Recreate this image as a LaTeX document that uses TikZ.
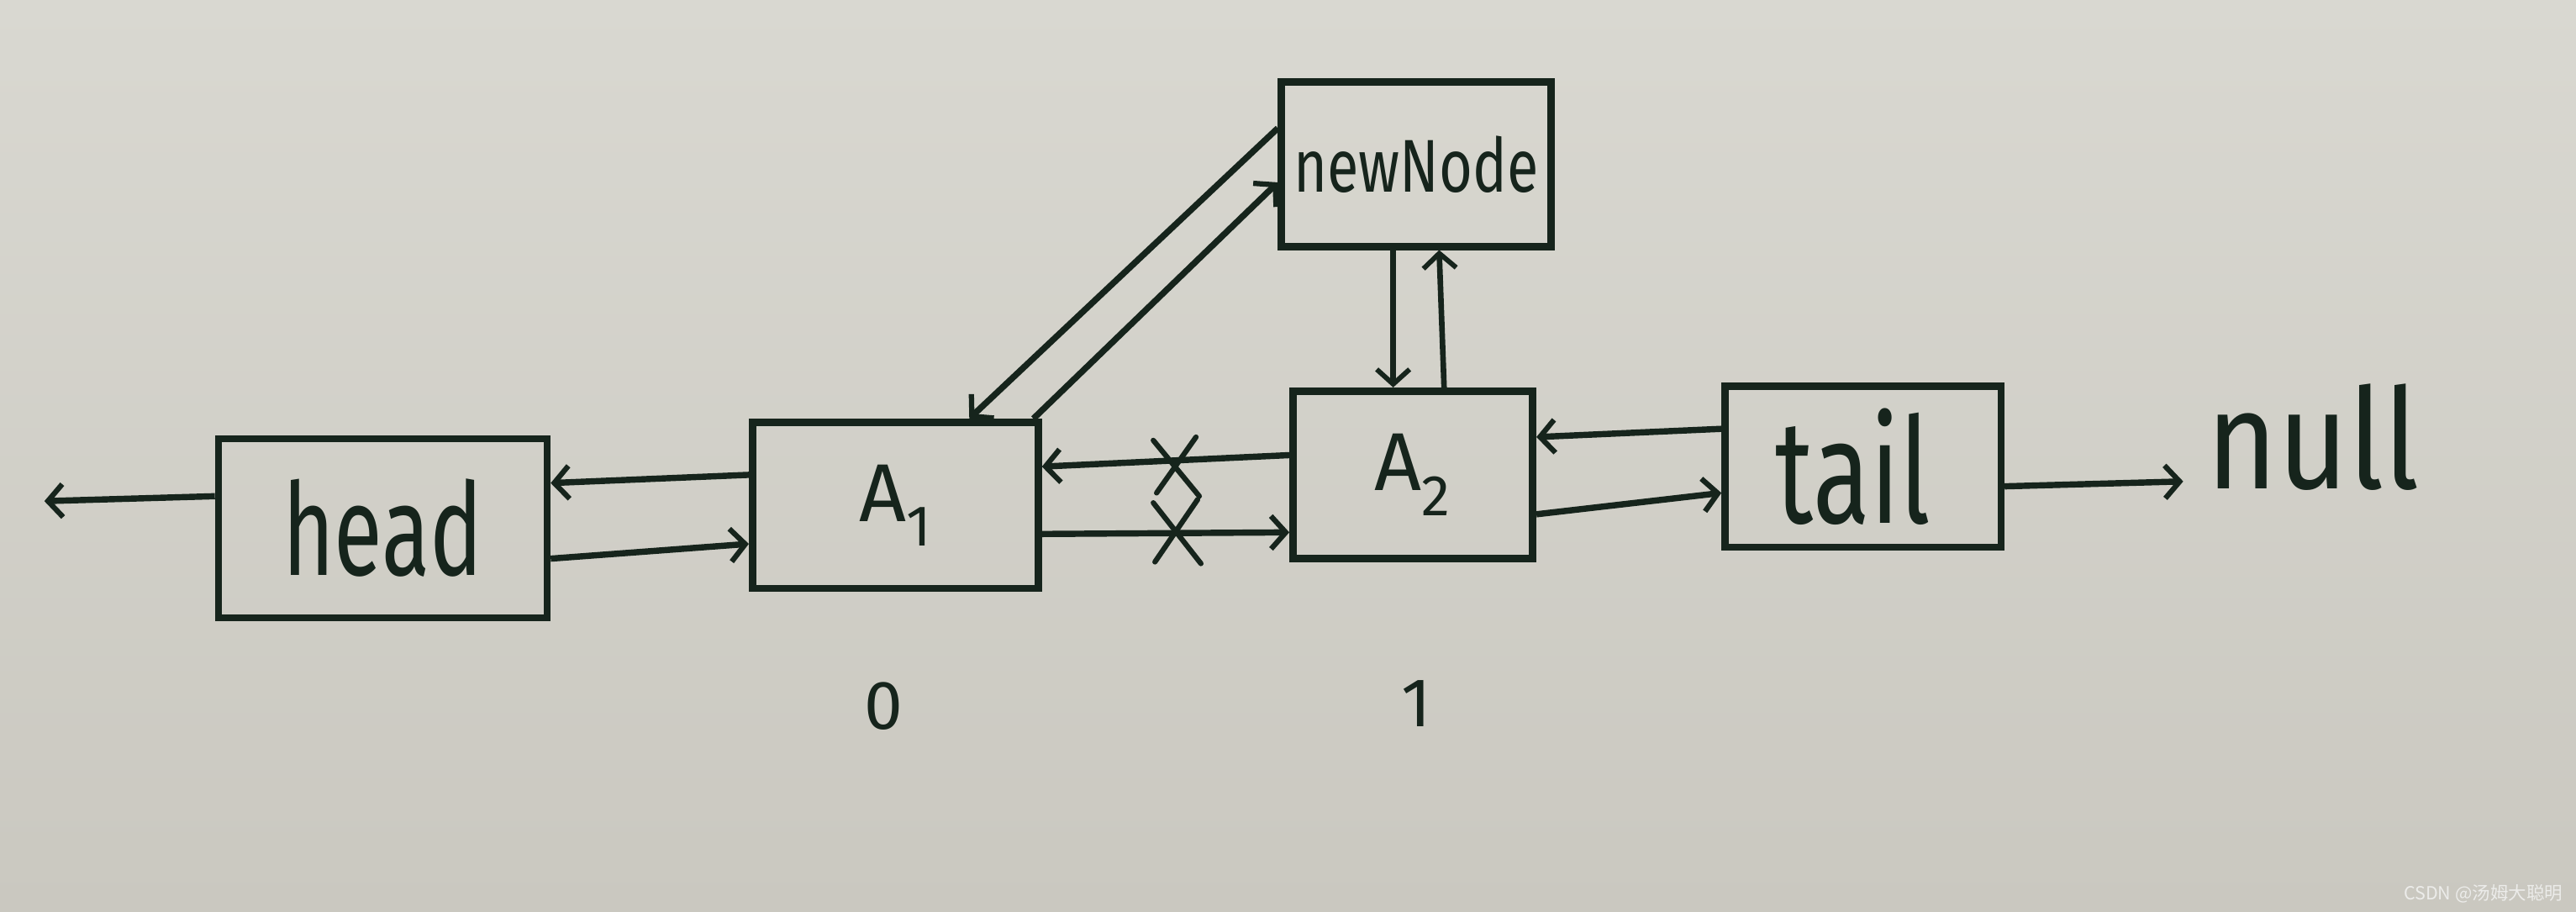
\documentclass[tikz,border=0pt]{standalone}
\usepackage{graphicx}
\usepackage{fontspec}
\setmainfont{Fira Sans}
\newfontfamily\cjk{Noto Sans CJK SC}
\usetikzlibrary{arrows.meta}
\definecolor{ink}{RGB}{22,36,28}
\definecolor{papertop}{RGB}{217,216,209}
\definecolor{paperbot}{RGB}{202,200,192}
\definecolor{wm}{RGB}{236,236,234}
\begin{document}
\begin{tikzpicture}[x=1pt,y=-1pt,
  box/.style={draw=ink, line width=4.4pt, rectangle, inner sep=0pt, text=ink},
  link/.style={draw=ink, line width=3.8pt,
    -{Straight Barb[length=9pt,width=20pt,line width=3.2pt]}},
  thin link/.style={draw=ink, line width=3.4pt,
    -{Straight Barb[length=9pt,width=20pt,line width=3pt]}},
  cross/.style={draw=ink, line width=3.2pt, line cap=round},
  label/.style={text=ink, inner sep=0pt}]
\shade[top color=papertop, bottom color=paperbot] (0,0) rectangle (1568,555);
\useasboundingbox (0,0) rectangle (1568,555);

% nodes
\node[box, minimum width=200pt, minimum height=109pt] (head) at (233,321.5)
  {\fontsize{54}{54}\selectfont\raisebox{-6pt}{\scalebox{1}[1.45]{head}}};
\node[box, minimum width=174pt, minimum height=101pt] (A1) at (545,307.5)
  {\fontsize{50}{50}\selectfont A\textsubscript{1}};
\node[box, minimum width=146pt, minimum height=102pt] (A2) at (860,289)
  {\fontsize{50}{50}\selectfont\raisebox{-8pt}{A\textsubscript{2}}};
\node[box, minimum width=168pt, minimum height=98pt] (tail) at (1134,284)
  {\fontsize{64}{64}\selectfont\hspace*{-12pt}\scalebox{1}[1.4]{tail}};
\node[box, minimum width=164pt, minimum height=100pt] (newNode) at (862,100)
  {\fontsize{35}{35}\selectfont\scalebox{1}[1.3]{newNode}};
\node[label] (null) at (1408,266) {\fontsize{74}{74}\selectfont\scalebox{1}[1.15]{null}};
\node[label] (idx0) at (538,430) {\fontsize{42}{42}\selectfont 0};
\node[label] (idx1) at (862,428) {\fontsize{42}{42}\selectfont 1};
\coordinate (leftend) at (27,305);
\node[inner sep=0pt, text=wm, anchor=east] (mark) at (1560,544)
  {\fontsize{11}{11}\selectfont\cjk CSDN @汤姆大聪明};

% connectors
\draw[link] (head.west |- 0,302) -- (leftend);
\draw[link] (A1.west |- 0,289) -- (head.east |- 0,294);
\draw[link] (head.east |- 0,340) -- (A1.west |- 0,331);
\draw[link] (A2.west |- 0,277) -- (A1.east |- 0,284);
\draw[link] (A1.east |- 0,325) -- (A2.west |- 0,324);
\draw[link] (tail.west |- 0,261) -- (A2.east |- 0,266);
\draw[link] (A2.east |- 0,313) -- (tail.west |- 0,300);
\draw[link] (tail.east |- 0,296) -- ([xshift=-14pt]null.west |- 0,293);
\draw[link] (newNode.west |- 0,78) -- (A1.north -| 590,0);
\draw[link] (A1.north -| 629,0) -- (newNode.west |- 0,111);
\draw[thin link] (newNode.south -| 848,0) -- (A2.north -| 848,0);
\draw[thin link] (A2.north -| 879,0) -- (newNode.south -| 876,0);

% crosses on the removed links
\draw[cross] (702,268) -- (730,302) (728,266) -- (704,300);
\draw[cross] (702,306) -- (731,343) (729,304) -- (703,342);
\end{tikzpicture}
\end{document}
